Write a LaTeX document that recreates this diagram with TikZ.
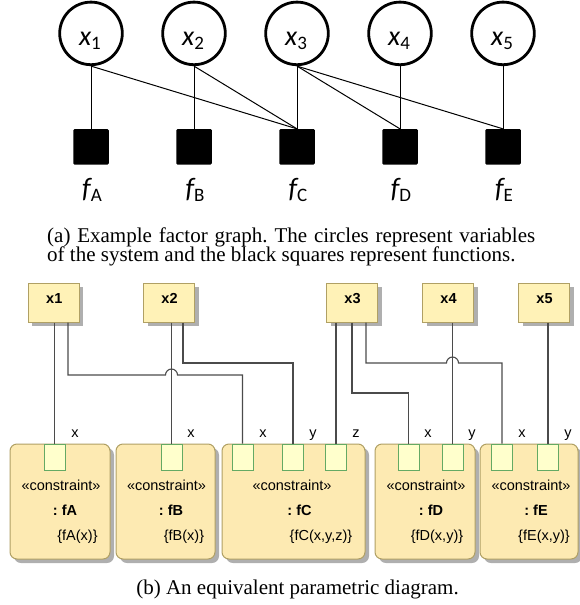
\documentclass[tikz,border=0pt]{standalone}
\usepackage{fontspec}
\setmainfont{Liberation Sans}
\newfontfamily\carl{Carlito}
\newfontfamily\tms{Liberation Serif}
\usetikzlibrary{shadows}
\definecolor{varfill}{RGB}{255,242,183}
\definecolor{varedge}{RGB}{176,160,100}
\definecolor{cfill}{RGB}{253,234,178}
\definecolor{portfill}{RGB}{255,255,204}
\definecolor{portedge}{RGB}{100,170,100}
\definecolor{wirec}{RGB}{75,75,75}
\definecolor{shadowc}{RGB}{175,175,175}
\newcommand{\bigit}[1]{{\carl\itshape\fontsize{28}{28}\selectfont #1}}
\newcommand{\subup}[1]{\raisebox{-4.2pt}{\carl\fontsize{19}{19}\selectfont #1}}
\frenchspacing
\begin{document}
\begin{tikzpicture}[x=1pt,y=-1pt,
  varcirc/.style={circle,draw,line width=2.8pt,minimum size=62.6pt,inner sep=0pt},
  fsq/.style={rectangle,fill=black,minimum size=35.5pt,rounded corners=1.2pt,inner sep=0pt},
  fgline/.style={draw,line width=1pt},
  bigtext/.style={anchor=base,inner sep=0pt},
  vbox/.style={rectangle,draw=varedge,fill=varfill,line width=1pt,minimum width=51pt,minimum height=39pt,inner sep=0pt,
    drop shadow={shadow xshift=4pt,shadow yshift=-4pt,fill=shadowc,opacity=1}},
  cbox/.style={rectangle,draw=varedge,fill=cfill,line width=1pt,rounded corners=7pt,minimum height=115pt,inner sep=0pt,
    drop shadow={shadow xshift=4pt,shadow yshift=-4pt,fill=shadowc,opacity=1}},
  port/.style={rectangle,draw=portedge,fill=portfill,line width=1pt,minimum width=21pt,minimum height=26pt,inner sep=0pt},
  uml/.style={anchor=base,inner sep=0pt,font=\fontsize{14.5}{16}\selectfont},
  umlb/.style={anchor=base,inner sep=0pt,font=\bfseries\fontsize{14.5}{16}\selectfont},
  wire/.style={draw=wirec,line width=1.1pt},
  captext/.style={inner sep=0pt,font=\tms\fontsize{21}{24}\selectfont}]
\useasboundingbox (0,0) rectangle (579,605);

% ---------- (a) factor graph ----------
\node[varcirc] (x1) at (91,33.4) {};
\node[varcirc] (x2) at (194,33.4) {};
\node[varcirc] (x3) at (297,33.4) {};
\node[varcirc] (x4) at (400,33.4) {};
\node[varcirc] (x5) at (503,33.4) {};
\node[fsq] (fA) at (91,146.8) {};
\node[fsq] (fB) at (194,146.8) {};
\node[fsq] (fC) at (297,146.8) {};
\node[fsq] (fD) at (400,146.8) {};
\node[fsq] (fE) at (503,146.8) {};

\node[bigtext] (x1t) at (90,45) {\bigit{x}\subup{1}};
\node[bigtext] (x2t) at (193,45) {\bigit{x}\subup{2}};
\node[bigtext] (x3t) at (296,45) {\bigit{x}\subup{3}};
\node[bigtext] (x4t) at (399,45) {\bigit{x}\subup{4}};
\node[bigtext] (x5t) at (502,45) {\bigit{x}\subup{5}};

\node[bigtext] (fAt) at (92,197) {\bigit{f}\subup{A}};
\node[bigtext] (fBt) at (195,197) {\bigit{f}\subup{B}};
\node[bigtext] (fCt) at (298,197) {\bigit{f}\subup{C}};
\node[bigtext] (fDt) at (401,197) {\bigit{f}\subup{D}};
\node[bigtext] (fEt) at (504,197) {\bigit{f}\subup{E}};

\draw[fgline] (x1.south) -- (fA.north);
\draw[fgline] (x1.south) -- (fC.north);
\draw[fgline] (x2.south) -- (fB.north);
\draw[fgline] (x2.south) -- (fC.north);
\draw[fgline] (x3.south) -- (fC.north);
\draw[fgline] (x3.south) -- (fD.north);
\draw[fgline] (x3.south) -- (fE.north);
\draw[fgline] (x4.south) -- (fD.north);
\draw[fgline] (x5.south) -- (fE.north);

\node[captext,anchor=base west] (capa1) at (47,242) {\makebox[488pt][s]{(a) Example factor graph. The circles represent variables}};
\node[captext,anchor=base west] (capa2) at (47,261) {of the system and the black squares represent functions.};

% ---------- (b) parametric diagram ----------
\node[vbox] (v1) at (53.5,302.5) {};
\node[vbox] (v2) at (169,302.5) {};
\node[vbox] (v3) at (352,302.5) {};
\node[vbox] (v4) at (448,302.5) {};
\node[vbox] (v5) at (544,302.5) {};
\node[umlb] (v1t) at (54.3,303.3) {x1};
\node[umlb] (v2t) at (169.5,303.3) {x2};
\node[umlb] (v3t) at (352.5,303.3) {x3};
\node[umlb] (v4t) at (448.5,303.3) {x4};
\node[umlb] (v5t) at (544.5,303.3) {x5};

\node[cbox,minimum width=100pt] (cA) at (60,501.5) {};
\node[cbox,minimum width=99pt] (cB) at (165.5,501.5) {};
\node[cbox,minimum width=143pt] (cC) at (293.5,501.5) {};
\node[cbox,minimum width=100pt] (cD) at (425,501.5) {};
\node[cbox,minimum width=98pt] (cE) at (529,501.5) {};

\node[port] (pA) at (54.5,457) {};
\node[port] (pB) at (171.5,457) {};
\node[port] (pCx) at (242.5,457) {};
\node[port] (pCy) at (293,457) {};
\node[port] (pCz) at (336,457) {};
\node[port] (pDx) at (408.5,457) {};
\node[port] (pDy) at (452.5,457) {};
\node[port] (pEx) at (502,457) {};
\node[port] (pEy) at (548,457) {};

\node[uml] (sA) at (61,490) {«constraint»};
\node[umlb] (nA) at (65,515) {: fA};
\node[uml] (eA) at (77.5,540) {\{fA(x)\}};
\node[uml] (sB) at (166.5,490) {«constraint»};
\node[umlb] (nB) at (171,515) {: fB};
\node[uml] (eB) at (184,540) {\{fB(x)\}};
\node[uml] (sC) at (292,490) {«constraint»};
\node[umlb] (nC) at (299.5,515) {: fC};
\node[uml] (eC) at (321,540) {\{fC(x,y,z)\}};
\node[uml] (sD) at (426,490) {«constraint»};
\node[umlb] (nD) at (431,515) {: fD};
\node[uml] (eD) at (437,540) {\{fD(x,y)\}};
\node[uml] (sE) at (531,490) {«constraint»};
\node[umlb] (nE) at (536,515) {: fE};
\node[uml] (eE) at (544,540) {\{fE(x,y)\}};

\node[uml] (lA) at (75,437) {x};
\node[uml] (lB) at (191,437) {x};
\node[uml] (lCx) at (263,437) {x};
\node[uml] (lCy) at (313,437) {y};
\node[uml] (lCz) at (356,437) {z};
\node[uml] (lDx) at (428,437) {x};
\node[uml] (lDy) at (472,437) {y};
\node[uml] (lEx) at (522,437) {x};
\node[uml] (lEy) at (568,437) {y};

\coordinate (h1) at (0,375);
\coordinate (h2) at (0,363);
\coordinate (h3) at (0,393);
\coordinate (hopA) at (pB.north |- h1);
\coordinate (hopB) at (pDy.north |- h2);
\coordinate (v1r) at ([xshift=14.5pt]v1.south);
\coordinate (v2r) at ([xshift=14pt]v2.south);
\coordinate (v3r) at ([xshift=14pt]v3.south);

\draw[wire] (v1.south -| pA.north) -- (pA.north);
\draw[wire] (v1r) -- (v1r |- h1) -- ([xshift=-6pt]hopA) arc[start angle=180,end angle=0,radius=6pt] -| (pCx.north);
\draw[wire] (v2.south -| pB.north) -- (pB.north);
\draw[wire] (v2r) -- (v2r |- h2) -| (pCy.north);
\draw[wire] (v3.south -| pCz.north) -- (pCz.north);
\draw[wire] (v3.south) -- (v3.south |- h3) -| (pDx.north);
\draw[wire] (v3r) -- (v3r |- h2) -- ([xshift=-6pt]hopB) arc[start angle=180,end angle=0,radius=6pt] -| (pEx.north);
\draw[wire] (v4.south -| pDy.north) -- (pDy.north);
\draw[wire] (v5.south -| pEy.north) -- (pEy.north);

\node[captext,anchor=base] (capb) at (297.5,594.5) {(b) An equivalent parametric diagram.};
\end{tikzpicture}
\end{document}
